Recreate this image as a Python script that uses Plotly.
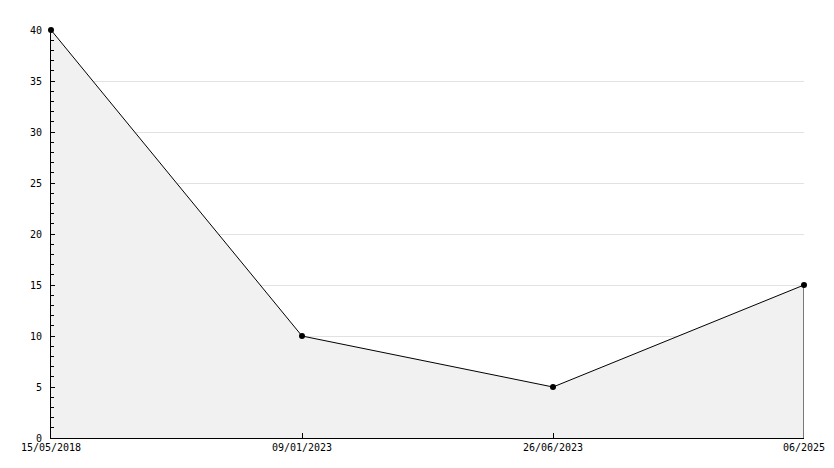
import plotly.graph_objects as go

dates = ["15/05/2018", "09/01/2023", "26/06/2023", "06/2025"]
values = [40, 10, 5, 15]
y_ticks = [0, 5, 10, 15, 20, 25, 30, 35, 40]

fig = go.Figure()
fig.add_trace(go.Scatter(
    x=dates, y=values, mode="lines+markers",
    line=dict(color="black", width=1),
    marker=dict(color="black", size=6),
    fill="tozeroy", fillcolor="#f1f1f1",
    cliponaxis=False, showlegend=False, hoverinfo="x+y",
))
# closing edge of the filled area at the last point
fig.add_trace(go.Scatter(
    x=[dates[-1], dates[-1]], y=[0, values[-1]], mode="lines",
    line=dict(color="black", width=1), showlegend=False, hoverinfo="skip",
))

mono = dict(family="DejaVu Sans Mono", size=10, color="black")
fig.update_layout(
    width=826, height=452,
    margin=dict(l=43, r=30, t=22, b=22),
    paper_bgcolor="white", plot_bgcolor="white",
    font=mono,
    xaxis=dict(
        type="category", range=[0, 3], showgrid=False, zeroline=False,
        showline=True, linecolor="black", linewidth=1, automargin=False,
        ticks="inside", ticklen=5, tickcolor="black", tickfont=mono,
    ),
    yaxis=dict(
        range=[0, 40], tickvals=y_ticks, ticktext=[str(v) for v in y_ticks],
        showgrid=True, gridcolor="#e2e2e2", gridwidth=1, zeroline=False,
        showline=True, linecolor="black", linewidth=1, automargin=False,
        ticks="inside", ticklen=4, tickcolor="black", tickfont=mono,
        ticklabelstandoff=6,
        minor=dict(dtick=1, ticks="inside", ticklen=3, tickcolor="black", showgrid=False),
    ),
)
fig.write_html("out.html")
